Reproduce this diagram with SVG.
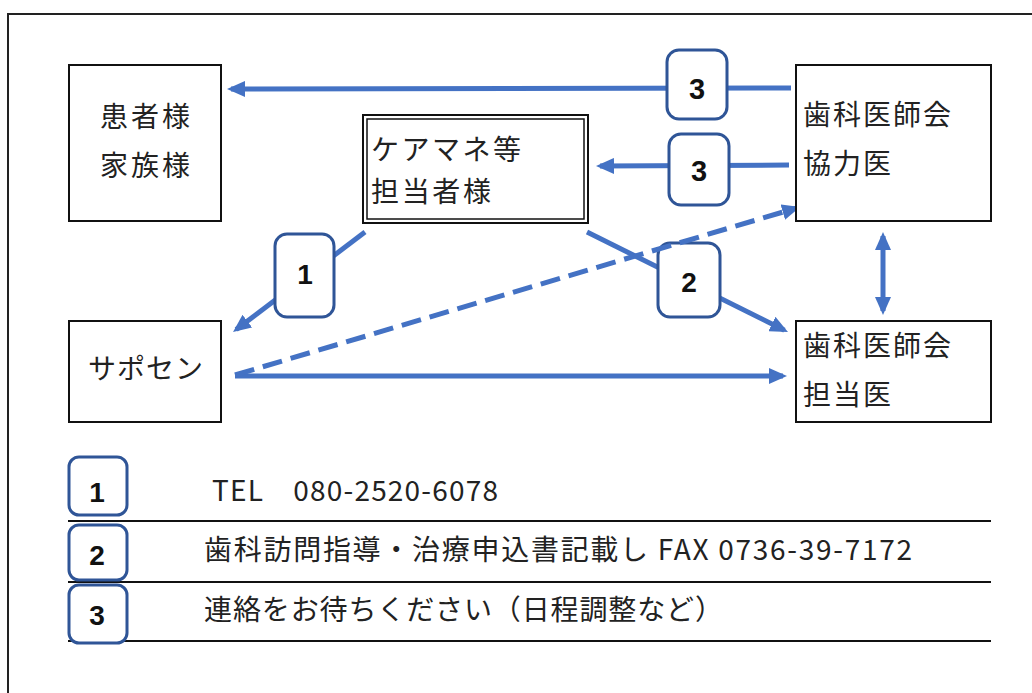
<svg xmlns="http://www.w3.org/2000/svg" width="1032" height="693" viewBox="0 0 1032 693">
<style>
.box{fill:#fff;stroke:#111;stroke-width:2}
.lbl{font-family:"Noto Sans CJK JP","Noto Sans",sans-serif;font-size:28px;fill:#222}
.con{stroke:#4472C4;stroke-width:5;fill:none}
.badge{fill:#fff;stroke:#2F5597;stroke-width:3}
.num{font-family:"Liberation Sans",Arial,sans-serif;font-weight:bold;fill:#111;text-anchor:middle}
.rule{stroke:#111;stroke-width:2}
</style>
<defs>
<marker id="ah" markerUnits="userSpaceOnUse" markerWidth="18" markerHeight="16" refX="14" refY="8" orient="auto-start-reverse" viewBox="0 0 18 16">
<path d="M0,0 L18,8 L0,16 z" fill="#4472C4"/>
</marker>
</defs>
<rect width="1032" height="693" fill="#fff"/>
<rect x="8" y="14" width="1040" height="700" fill="none" stroke="#222" stroke-width="2"/>

<g id="connectors">
<line class="con" x1="791" y1="88" x2="231" y2="89" marker-end="url(#ah)"/>
<line class="con" x1="789" y1="165" x2="600" y2="166" marker-end="url(#ah)"/>
<line class="con" x1="235" y1="376" x2="783" y2="376" marker-end="url(#ah)"/>
<line class="con" x1="365" y1="232" x2="236.2" y2="329.6" marker-end="url(#ah)"/>
<line class="con" x1="587" y1="232" x2="784.4" y2="330.2" marker-end="url(#ah)"/>
<line class="con" x1="883" y1="236" x2="883" y2="311" marker-start="url(#ah)" marker-end="url(#ah)"/>
</g>

<g id="badge3a"><rect class="badge" x="667" y="50" width="60" height="69" rx="12"/><text class="num" x="697" y="99" font-size="29">3</text></g>
<g id="badge3b"><rect class="badge" x="669" y="134" width="60" height="71" rx="12"/><text class="num" x="699" y="181" font-size="29">3</text></g>
<g id="badge1"><rect class="badge" x="275" y="234" width="59" height="83" rx="12"/><text class="num" x="305" y="284" font-size="28">1</text></g>
<g id="badge2"><rect class="badge" x="658" y="243" width="62" height="74" rx="12"/><text class="num" x="689" y="292" font-size="28">2</text></g>

<g id="dashed-connector">
<line class="con" x1="235" y1="375" x2="796.2" y2="208.1" stroke-dasharray="20 9" marker-end="url(#ah)"/>
</g>

<g id="patient">
<rect class="box" x="69" y="65" width="152" height="156"/>
<text class="lbl" x="100" y="127" textLength="90">患者様</text>
<text class="lbl" x="100" y="176" textLength="90">家族様</text>
</g>

<g id="caremanager">
<rect class="box" x="363" y="115" width="225" height="108" stroke-width="2.5"/>
<rect x="367" y="119" width="217" height="100" fill="none" stroke="#111" stroke-width="1.5"/>
<text class="lbl" x="371" y="160" textLength="150">ケアマネ等</text>
<text class="lbl" x="371" y="202" textLength="120">担当者様</text>
</g>

<g id="kyoryokui">
<rect class="box" x="796" y="65" width="195" height="156"/>
<text class="lbl" x="803" y="125" textLength="148">歯科医師会</text>
<text class="lbl" x="803" y="174" textLength="88">協力医</text>
</g>

<g id="sapocen">
<rect class="box" x="69" y="321" width="152" height="101"/>
<text class="lbl" x="88" y="379" textLength="115">サポセン</text>
</g>

<g id="tantoui">
<rect class="box" x="796" y="321" width="195" height="101"/>
<text class="lbl" x="803" y="356" textLength="148">歯科医師会</text>
<text class="lbl" x="803" y="405" textLength="88">担当医</text>
</g>

<g id="legend">
<line class="rule" x1="68" y1="521" x2="991" y2="521"/>
<line class="rule" x1="68" y1="582" x2="991" y2="582"/>
<line class="rule" x1="68" y1="641" x2="991" y2="641"/>
<g id="leg1"><rect class="badge" x="69" y="457" width="58" height="58" rx="10"/><text class="num" x="97" y="502" font-size="28">1</text></g>
<g id="leg2"><rect class="badge" x="69" y="525" width="58" height="55" rx="10"/><text class="num" x="97" y="565" font-size="28">2</text></g>
<g id="leg3"><rect class="badge" x="69" y="585" width="58" height="58" rx="10"/><text class="num" x="97" y="625" font-size="28">3</text></g>
<text class="lbl" x="212" y="501" textLength="286">TEL　080-2520-6078</text>
<text class="lbl" x="204" y="560" textLength="708">歯科訪問指導・治療申込書記載し FAX 0736-39-7172</text>
<text class="lbl" x="204" y="620" textLength="519">連絡をお待ちください（日程調整など）</text>
</g>
</svg>
